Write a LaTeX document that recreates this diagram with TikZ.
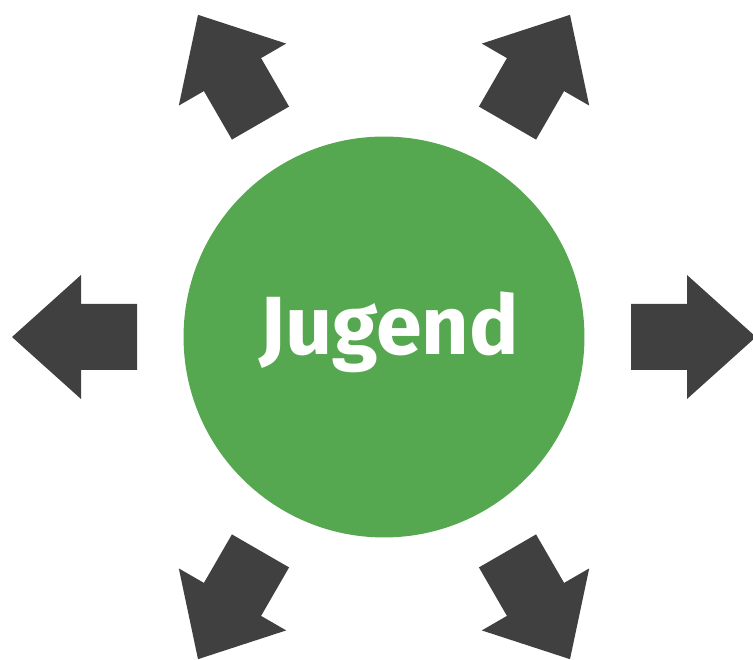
\documentclass[tikz,border=0pt]{standalone}
\usepackage{fontspec}
\newfontfamily\labelfont{Fira Sans}
\usetikzlibrary{positioning}
\definecolor{jugendgreen}{RGB}{86,168,80}
\definecolor{arrowgray}{RGB}{64,64,64}
\tikzset{%
	hub/.style      = {circle, fill=jugendgreen, minimum size=8.02cm, inner sep=0pt},
	hublabel/.style = {anchor=base, text=white, inner sep=0pt, font=\labelfont\bfseries\fontsize{47}{47}\selectfont},
	outarrow/.style = {fill=arrowgray},
}

\begin{document}
\begin{tikzpicture}[x=0.02cm,y=0.02cm]
	
	\useasboundingbox (0,0) rectangle (753,659);
	\node[hub] (jugend) at (384,322) {};  % green circle
	\node[hublabel] (jugendtext) at (389,304) {Jugend};
	
	% six arrows pointing away from the circle
	\foreach \a in {0,60,...,300}
		\fill[outarrow,shift={(jugend.center)},rotate=\a] (247,-33) -- (303,-33) -- (303,-62) -- (372,0) -- (303,62) -- (303,33) -- (247,33) -- cycle;
	
\end{tikzpicture}
\end{document}
